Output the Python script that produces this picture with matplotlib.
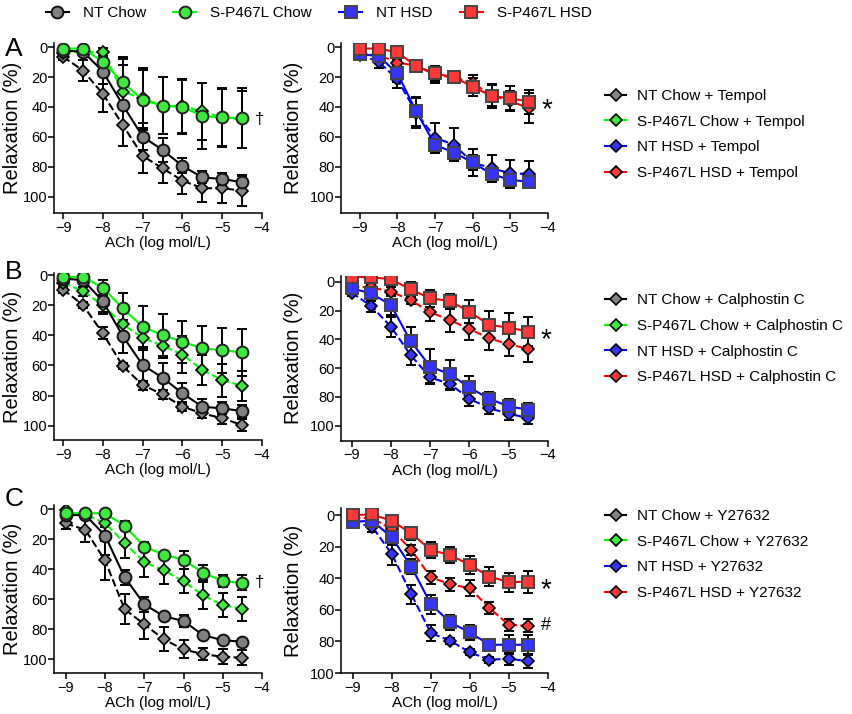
import matplotlib.pyplot as plt
from matplotlib.lines import Line2D

plt.rcParams['font.family'] = ['Liberation Sans', 'DejaVu Sans']

ach = [-9, -8.5, -8, -7.5, -7, -6.5, -6, -5.5, -5, -4.5]

# Panel A: Tempol
a_nt_chow = [2.4, 3, 16.4, 38.7, 59.8, 68.7, 79.3, 87, 88, 90.2]
a_nt_chow_err = [1, 2, 8, 27, 9, 8, 5, 4, 4, 5]
a_nt_chow_tx = [6.4, 15.8, 31.3, 52, 72.7, 80.9, 89.1, 94.2, 94.2, 95.8]
a_nt_chow_tx_err = [2, 7, 12, 14, 11, 10, 9, 9, 10, 10]
a_sp_chow = [1, 1, 9.8, 23.6, 35.3, 39.3, 40, 46, 47, 47.6]
a_sp_chow_err = [1, 1, 4, 17, 20, 19, 18, 22, 20, 20]
a_sp_chow_tx = [3.8, 3.1, 3.5, 29.8, 34.2, 39.3, 39.3, 43, 47, 48.2]
a_sp_chow_tx_err = [1, 1, 3, 22, 20, 19, 18, 19, 19, 19]
a_nt_hsd = [4.7, 6, 17.6, 43, 65.3, 70.4, 77, 84.7, 88.7, 89.8]
a_nt_hsd_err = [2, 3, 6, 10, 5, 5, 5, 5, 5, 3]
a_nt_hsd_tx = [5.3, 9.8, 21.6, 43.8, 60.4, 65.3, 77, 80.9, 84.2, 84.7]
a_nt_hsd_tx_err = [2, 4, 6, 10, 10, 11, 9, 9, 9, 9]
a_sp_hsd = [1, 1, 3.6, 12.7, 17.6, 20.2, 26.4, 32.7, 34.2, 36.4]
a_sp_hsd_err = [1, 1, 2, 4, 5, 4, 6, 8, 8, 8]
a_sp_hsd_tx = [4.7, 5.3, 10.4, 12.4, 18.7, 20.2, 23.8, 32.4, 36, 40.9]
a_sp_hsd_tx_err = [1, 2, 2, 4, 5, 4, 5, 7, 7, 10]

# Panel B: Calphostin C
b_nt_chow = [2.2, 3.3, 17.3, 40.5, 59.7, 68.1, 78.5, 87.4, 88.5, 90.3]
b_nt_chow_err = [1, 1, 7, 11, 12, 10, 7, 5, 4, 4]
b_nt_chow_tx = [9.5, 19.9, 38.7, 60.4, 73, 79.2, 87.4, 91.8, 95.1, 99.6]
b_nt_chow_tx_err = [2, 2, 4, 2, 3, 3, 3, 3, 4, 4]
b_sp_chow = [1.1, 1.1, 8.4, 22.1, 34.3, 39.8, 44.2, 48.7, 49.8, 51.3]
b_sp_chow_err = [1, 1, 5, 10, 14, 14, 14, 15, 15, 15.5]
b_sp_chow_tx = [5.1, 10.6, 19.9, 32.7, 41.6, 46.9, 52.7, 63, 69.7, 73.5]
b_sp_chow_tx_err = [1, 3, 6, 9, 8, 8, 12, 10, 11, 10]
b_nt_hsd = [4.6, 8.1, 16.2, 41.1, 58.9, 64.2, 73.4, 81.3, 86.6, 88.9]
b_nt_hsd_err = [2, 5, 7, 10, 12, 10, 8, 5, 5, 5]
b_nt_hsd_tx = [7.6, 16.9, 31.2, 50.8, 66.5, 70.9, 81.3, 87.8, 91.7, 94.7]
b_nt_hsd_tx_err = [2, 4, 7, 7, 4, 4, 5, 4, 4, 4]
b_sp_hsd = [-3.5, -3, -1.8, 5.3, 11.5, 13.4, 20.8, 30, 31.9, 34.6]
b_sp_hsd_err = [1, 1, 3, 5, 6, 5, 8, 10, 10, 10]
b_sp_hsd_tx = [3.5, 3.9, 6.9, 12.7, 21.2, 26.6, 32.8, 39.3, 43.4, 46.7]
b_sp_hsd_tx_err = [2, 2, 3, 3, 6, 8, 8, 8, 8, 9]

# Panel C: Y27632
c_nt_chow = [4, 4, 17.7, 45.4, 63.5, 71.5, 74.6, 84.1, 87.4, 88.5]
c_nt_chow_err = [1, 1, 13, 5, 5, 2, 4, 2, 2, 2]
c_nt_chow_tx = [9.5, 13.9, 34.3, 66.8, 76.8, 86.9, 93.6, 96.7, 98.5, 99.1]
c_nt_chow_tx_err = [4, 8, 13, 10, 10, 8, 6, 4, 5, 5]
c_sp_chow = [2.7, 2.7, 2.9, 11.1, 25, 30.5, 33.8, 42.5, 48, 49.3]
c_sp_chow_err = [1, 1, 1, 3, 3, 2, 6, 5, 4, 5]
c_sp_chow_tx = [0.7, 3.8, 9.3, 22.8, 35.4, 40.9, 48.2, 57.5, 64.2, 66.4]
c_sp_chow_tx_err = [1, 2, 3, 10, 10, 9, 8, 9, 8, 8]
c_nt_hsd = [4.2, 3.6, 14.1, 32.6, 56.4, 68, 74.3, 82.1, 82.1, 82.1]
c_nt_hsd_err = [2, 2, 5, 5, 6, 5, 5, 3, 6, 6]
c_nt_hsd_tx = [4.2, 7.4, 24.6, 50.1, 74.7, 79.6, 86.9, 91.6, 90.9, 92.6]
c_nt_hsd_tx_err = [2, 3, 7, 6, 5, 2, 2, 2, 4, 4]
c_sp_hsd = [0, -0.4, 3.6, 11.6, 22.1, 25.3, 31.6, 38.9, 42.5, 42.1]
c_sp_hsd_err = [1, 1, 2, 4, 5, 5, 6, 6, 6, 7]
c_sp_hsd_tx = [2.1, 1.7, 9.1, 22.1, 39.4, 43.8, 46.3, 58.9, 69.5, 70.1]
c_sp_hsd_tx_err = [1, 1, 2, 3, 4, 4, 5, 4, 4, 4]

groups = ['NT Chow', 'S-P467L Chow', 'NT HSD', 'S-P467L HSD']
treatments = ['Tempol', 'Calphostin C', 'Y27632']

STYLE = {
    'NT Chow': dict(marker='o', mfc='#808080', mec='#111111', color='black'),
    'S-P467L Chow': dict(marker='o', mfc='#3ee83e', mec='#222222', color='#00ff00'),
    'NT HSD': dict(marker='s', mfc='#3535ff', mec='#444444', color='#0000ff'),
    'S-P467L HSD': dict(marker='s', mfc='#ff3838', mec='#444444', color='#ff0000'),
}
DIAMOND_FILL = {'NT Chow': '#858585', 'S-P467L Chow': '#3ee83e',
                'NT HSD': '#3535ff', 'S-P467L HSD': '#ff3838'}


def draw(ax, y, err, group, treated):
    st = STYLE[group]
    ax.errorbar(ach, y, yerr=err, fmt='none', ecolor='black', elinewidth=1.4,
                capsize=3.6, capthick=1.4, zorder=2)
    if treated:
        ax.plot(ach, y, ls='--', lw=1.5, color=st['color'], marker='D', ms=6.5,
                mfc=DIAMOND_FILL[group], mec='black', mew=1.2, zorder=3)
    else:
        ax.plot(ach, y, ls='-', lw=1.5, color=st['color'], marker=st['marker'],
                ms=8.5 if st['marker'] == 'o' else 8, mfc=st['mfc'], mec=st['mec'],
                mew=1.4, zorder=4)


def style_axes(ax, xlim, ylim, ypad):
    ax.set_xlim(*xlim)
    ax.set_ylim(*ylim)
    ax.set_xticks([-9, -8, -7, -6, -5, -4])
    ax.set_yticks([0, 20, 40, 60, 80, 100])
    ax.spines[['top', 'right']].set_visible(False)
    for s in ['left', 'bottom']:
        ax.spines[s].set_linewidth(1.1)
    ax.tick_params(direction='out', length=4, width=1.1, labelsize=10.5)
    ax.tick_params(axis='y', pad=0.5)
    ax.tick_params(axis='x', pad=1.5)
    ax.set_xlabel('ACh (log mol/L)', fontsize=11, labelpad=1)
    ax.set_ylabel('Relaxation (%)', fontsize=14.5, labelpad=ypad)


def mark(ax, y, sym, dy=0, size=13):
    ax.annotate(sym, xy=(ach[-1], y[-1]), xytext=(9, dy), textcoords='offset points',
                va='center', ha='left', fontsize=size)


fig = plt.figure(figsize=(8.52, 7.14), dpi=100)

pos = {
    'AL': [0.0634, 0.7017, 0.2441, 0.2381], 'AR': [0.4002, 0.7017, 0.243, 0.2381],
    'BL': [0.0634, 0.3838, 0.2441, 0.2339], 'BR': [0.4002, 0.3828, 0.243, 0.2311],
    'CL': [0.0634, 0.0570, 0.2441, 0.2353], 'CR': [0.4002, 0.0574, 0.243, 0.2311],
}

# Row A
ax = fig.add_axes(pos['AL'])
draw(ax, a_nt_chow, a_nt_chow_err, 'NT Chow', False)
draw(ax, a_nt_chow_tx, a_nt_chow_tx_err, 'NT Chow', True)
draw(ax, a_sp_chow_tx, a_sp_chow_tx_err, 'S-P467L Chow', True)
draw(ax, a_sp_chow, a_sp_chow_err, 'S-P467L Chow', False)
style_axes(ax, (-9.23, -4), (110.7, -2.7), 1)
mark(ax, a_sp_chow_tx, '†', 0, 12)

ax = fig.add_axes(pos['AR'])
draw(ax, a_nt_hsd, a_nt_hsd_err, 'NT HSD', False)
draw(ax, a_nt_hsd_tx, a_nt_hsd_tx_err, 'NT HSD', True)
draw(ax, a_sp_hsd, a_sp_hsd_err, 'S-P467L HSD', False)
draw(ax, a_sp_hsd_tx, a_sp_hsd_tx_err, 'S-P467L HSD', True)
style_axes(ax, (-9.5, -4), (110.7, -2.7), 5)
mark(ax, a_sp_hsd, '*', -6, 20)

# Row B
ax = fig.add_axes(pos['BL'])
draw(ax, b_nt_chow, b_nt_chow_err, 'NT Chow', False)
draw(ax, b_nt_chow_tx, b_nt_chow_tx_err, 'NT Chow', True)
draw(ax, b_sp_chow_tx, b_sp_chow_tx_err, 'S-P467L Chow', True)
draw(ax, b_sp_chow, b_sp_chow_err, 'S-P467L Chow', False)
style_axes(ax, (-9.23, -4), (109.5, -1.5), 1)

ax = fig.add_axes(pos['BR'])
draw(ax, b_nt_hsd, b_nt_hsd_err, 'NT HSD', False)
draw(ax, b_nt_hsd_tx, b_nt_hsd_tx_err, 'NT HSD', True)
draw(ax, b_sp_hsd, b_sp_hsd_err, 'S-P467L HSD', False)
draw(ax, b_sp_hsd_tx, b_sp_hsd_tx_err, 'S-P467L HSD', True)
style_axes(ax, (-9.27, -4), (110.4, -4.2), 5)
mark(ax, b_sp_hsd, '*', -6, 20)

# Row C
ax = fig.add_axes(pos['CL'])
draw(ax, c_nt_chow, c_nt_chow_err, 'NT Chow', False)
draw(ax, c_nt_chow_tx, c_nt_chow_tx_err, 'NT Chow', True)
draw(ax, c_sp_chow_tx, c_sp_chow_tx_err, 'S-P467L Chow', True)
draw(ax, c_sp_chow, c_sp_chow_err, 'S-P467L Chow', False)
style_axes(ax, (-9.3, -4), (109.5, -2.5), 1)
mark(ax, c_sp_chow, '†', 0, 12)

ax = fig.add_axes(pos['CR'])
draw(ax, c_nt_hsd, c_nt_hsd_err, 'NT HSD', False)
draw(ax, c_nt_hsd_tx, c_nt_hsd_tx_err, 'NT HSD', True)
draw(ax, c_sp_hsd, c_sp_hsd_err, 'S-P467L HSD', False)
draw(ax, c_sp_hsd_tx, c_sp_hsd_tx_err, 'S-P467L HSD', True)
style_axes(ax, (-9.3, -4), (100, -4.5), 5)
mark(ax, c_sp_hsd, '*', -6, 20)
mark(ax, c_sp_hsd_tx, '#', 0, 13)

# panel letters
for letter, ytop in zip('ABC', [37, 260, 487]):
    fig.text(5 / 852, 1 - ytop / 714, letter, fontsize=19, va='top', ha='left')

# top legend
top_handles = []
for g in groups:
    st = STYLE[g]
    top_handles.append(Line2D([], [], color=st['color'], lw=1.5, marker=st['marker'],
                              ms=8.5, mfc=st['mfc'], mec=st['mec'], mew=1.4))
fig.legend(top_handles, groups, loc='center left', bbox_to_anchor=(46 / 852, 1 - 13 / 714),
           ncol=4, frameon=False, fontsize=11, handlelength=1.5, handletextpad=0.9,
           columnspacing=1.8, borderpad=0, borderaxespad=0)

# treatment legends
for tx, yc in zip(treatments, [134.5, 338.7, 554.5]):
    handles = [Line2D([], [], color=STYLE[g]['color'], lw=1.5, marker='D', ms=6.5,
                      mfc=DIAMOND_FILL[g], mec='black', mew=1.2) for g in groups]
    labels = [f'{g} + {tx}' for g in groups]
    fig.legend(handles, labels, loc='center left', bbox_to_anchor=(605 / 852, 1 - yc / 714),
               frameon=False, fontsize=11, handlelength=1.4, handletextpad=0.7,
               labelspacing=0.76, borderpad=0, borderaxespad=0)

fig.savefig('out.png', dpi=100)
